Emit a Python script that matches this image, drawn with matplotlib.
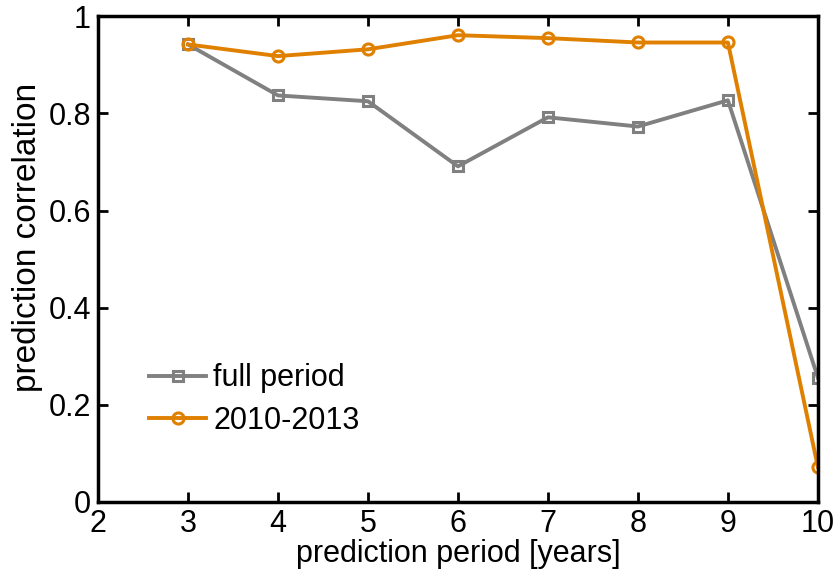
import matplotlib.pyplot as plt

plt.rcParams['font.family'] = ['Liberation Sans', 'DejaVu Sans']

years = [3, 4, 5, 6, 7, 8, 9, 10]
full_period = [0.942, 0.837, 0.825, 0.691, 0.792, 0.773, 0.827, 0.256]
recent = [0.942, 0.918, 0.932, 0.961, 0.955, 0.946, 0.946, 0.072]

fig = plt.figure(figsize=(8.38, 5.81), dpi=100)
ax = fig.add_axes([0.117, 0.136, 0.859, 0.836])

ax.plot(years, full_period, color='#808080', lw=2.8, marker='s', ms=7,
        mfc='none', mew=2.2, label='full period')
ax.plot(years, recent, color='#E08000', lw=2.8, marker='o', ms=8,
        mfc='none', mew=2.2, label='2010-2013')

ax.set_xlim(2, 10)
ax.set_ylim(0, 1)
ax.set_xticks(range(2, 11))
ax.set_yticks([0, 0.2, 0.4, 0.6, 0.8, 1])
ax.set_yticklabels(['0', '0.2', '0.4', '0.6', '0.8', '1'])
ax.tick_params(direction='in', length=7, width=2, labelsize=22,
               top=True, right=True, pad=5)
for s in ax.spines.values():
    s.set_linewidth(2.5)

ax.set_xlabel('prediction period [years]', fontsize=22, labelpad=0)
ax.set_ylabel('prediction correlation', fontsize=24)
ax.yaxis.set_label_coords(-0.077, 0.545)

ax.legend(loc='lower left', bbox_to_anchor=(0.033, 0.08), frameon=False,
          fontsize=22, handlelength=1.85, handletextpad=0.25, labelspacing=0.4)

fig.savefig('out.png', dpi=100)
